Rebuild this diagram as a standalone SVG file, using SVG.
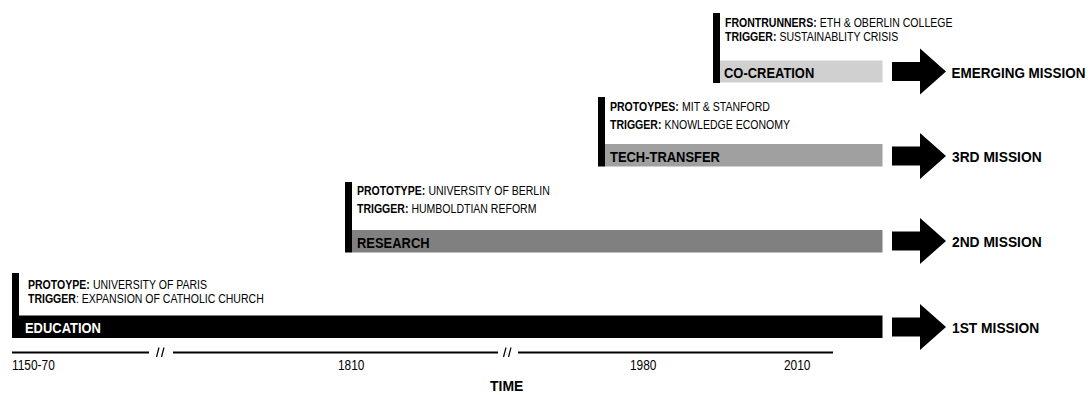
<svg xmlns="http://www.w3.org/2000/svg" width="1088" height="395" viewBox="0 0 1088 395">
<style>
text{font-family:"Liberation Sans",Arial,sans-serif;fill:#000}
.s{font-size:13px}
.b{font-weight:bold}
.l{font-size:15.5px;font-weight:bold}
.y{font-size:14px}
.t{font-size:15px;font-weight:bold}
.vb{fill:#000}
</style>
<defs>
<polygon id="arr" points="0,-9.5 28,-9.5 28,-23 54,0 28,23 28,9.5 0,9.5"/>
</defs>
<rect width="1088" height="395" fill="#fff"/>

<g id="co-creation">
<rect class="vb" x="713" y="13" width="7" height="70"/>
<rect x="720" y="60.5" width="162.5" height="22" fill="#d0d0d0"/>
<text class="s b" transform="translate(725,26.5) scale(0.81,1)">FRONTRUNNERS:</text>
<text class="s" transform="translate(819.8,26.5) scale(0.81,1)">ETH &amp; OBERLIN COLLEGE</text>
<text class="s b" transform="translate(725,40.5) scale(0.81,1)">TRIGGER:</text>
<text class="s" transform="translate(779.4,40.5) scale(0.81,1)">SUSTAINABLITY CRISIS</text>
<text class="l" transform="translate(724,77.5) scale(0.835,1)">CO-CREATION</text>
</g>

<g id="tech-transfer">
<rect class="vb" x="598" y="97" width="7" height="69.5"/>
<rect x="605" y="144" width="277.5" height="22.5" fill="#a0a0a0"/>
<text class="s b" transform="translate(610,111) scale(0.81,1)">PROTOYPES:</text>
<text class="s" transform="translate(682,111) scale(0.81,1)">MIT &amp; STANFORD</text>
<text class="s b" transform="translate(610,129) scale(0.81,1)">TRIGGER:</text>
<text class="s" transform="translate(664.4,129) scale(0.81,1)">KNOWLEDGE ECONOMY</text>
<text class="l" transform="translate(610,161.5) scale(0.835,1)">TECH-TRANSFER</text>
</g>

<g id="research">
<rect class="vb" x="345" y="182" width="7" height="70.5"/>
<rect x="352" y="230" width="530.5" height="22.5" fill="#808080"/>
<text class="s b" transform="translate(357,195) scale(0.81,1)">PROTOTYPE:</text>
<text class="s" transform="translate(428.4,195) scale(0.81,1)">UNIVERSITY OF BERLIN</text>
<text class="s b" transform="translate(357,213) scale(0.81,1)">TRIGGER:</text>
<text class="s" transform="translate(411.4,213) scale(0.81,1)">HUMBOLDTIAN REFORM</text>
<text class="l" transform="translate(357,247.5) scale(0.835,1)">RESEARCH</text>
</g>

<g id="education">
<rect class="vb" x="12" y="273" width="7" height="65"/>
<rect x="12" y="315.5" width="870.5" height="22.5" fill="#000"/>
<text class="s b" transform="translate(28,288.5) scale(0.81,1)">PROTOYPE:</text>
<text class="s" transform="translate(92.9,288.5) scale(0.81,1)">UNIVERSITY OF PARIS</text>
<text class="s b" transform="translate(28,303) scale(0.81,1)">TRIGGER</text>
<text class="s" transform="translate(76,303) scale(0.81,1)">: EXPANSION OF CATHOLIC CHURCH</text>
<text class="l" transform="translate(25,332.5) scale(0.835,1)" style="fill:#fff">EDUCATION</text>
</g>

<g id="missions">
<use href="#arr" x="892" y="71.5"/>
<text class="l" transform="translate(951.5,77.5) scale(0.87,1)">EMERGING MISSION</text>
<use href="#arr" x="892" y="156"/>
<text class="l" transform="translate(952,162) scale(0.89,1)">3RD MISSION</text>
<use href="#arr" x="892" y="241"/>
<text class="l" transform="translate(952,247) scale(0.89,1)">2ND MISSION</text>
<use href="#arr" x="892" y="327"/>
<text class="l" transform="translate(952,333) scale(0.89,1)">1ST MISSION</text>
</g>

<g id="connectors" stroke="#000" stroke-width="2" fill="none">
<line x1="12" y1="352.5" x2="149" y2="352.5"/>
<line x1="173" y1="352.5" x2="498" y2="352.5"/>
<line x1="518" y1="352.5" x2="833" y2="352.5"/>
<g stroke-width="1.2">
<line x1="156.5" y1="357" x2="159" y2="347.5"/>
<line x1="161.5" y1="357" x2="164" y2="347.5"/>
<line x1="503.5" y1="357" x2="506" y2="347.5"/>
<line x1="508.5" y1="357" x2="511" y2="347.5"/>
</g>
</g>

<g id="axis">
<text class="y" transform="translate(12,370) scale(0.85,1)">1150-70</text>
<text class="y" transform="translate(338,370) scale(0.85,1)">1810</text>
<text class="y" transform="translate(630,370) scale(0.85,1)">1980</text>
<text class="y" transform="translate(784,370) scale(0.85,1)">2010</text>
<text class="t" transform="translate(490,391) scale(0.93,1)">TIME</text>
</g>
</svg>
